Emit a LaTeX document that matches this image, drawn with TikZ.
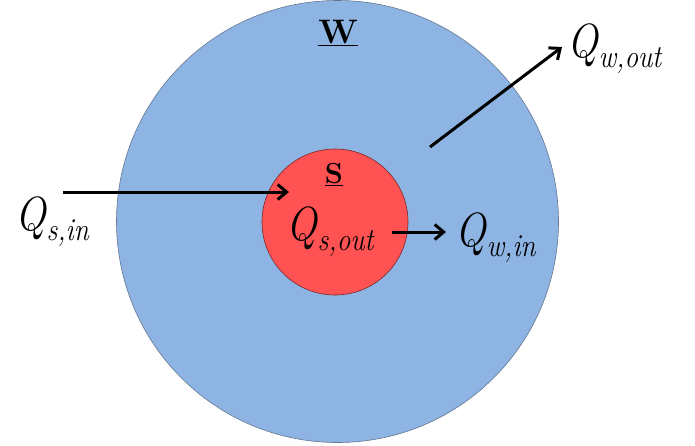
\documentclass[tikz,border=0pt]{standalone}
\usepackage{fontspec}
\usetikzlibrary{arrows.meta}
\definecolor{wblue}{RGB}{142,180,227}
\definecolor{wedge}{RGB}{100,118,145}
\definecolor{sred}{RGB}{255,82,82}
\definecolor{sedge}{RGB}{120,40,40}
\newcommand{\qlab}[1]{\textit{Q}\raisebox{-0.22em}{\fontsize{32}{36}\selectfont\textit{#1}}}
\begin{document}
\begin{tikzpicture}[x=1pt,y=-1pt,
  region/.style={circle,line width=0.6pt,inner sep=0pt},
  flow/.style={line width=3pt,-{Straight Barb[length=9pt,width=15pt,line width=3pt]}},
  qtext/.style={font=\fontsize{48}{56}\selectfont,inner sep=0pt,anchor=base west,xscale=0.85},
  title/.style={font=\bfseries\fontsize{34}{38}\selectfont,inner sep=0pt,anchor=base}]
\useasboundingbox (0,0) rectangle (695,445);
\node[region,draw=wedge,fill=wblue,minimum size=442pt] (W) at (337.5,221.5) {};
\node[region,draw=sedge,fill=sred,minimum size=146pt] (S) at (335,222) {};
\node[title] (Wt) at (338,43) {\underline{W}};
\node[title,font=\bfseries\fontsize{29}{32}\selectfont] (St) at (334,183) {\underline{S}};
\node[qtext] (qsin) at (15,230) {\qlab{s,in}};
\node[qtext] (qsout) at (286,240) {\qlab{s,out}};
\node[qtext] (qwin) at (455,246) {\qlab{w,in}};
\node[qtext] (qwout) at (567,57) {\qlab{w,out}};
\coordinate (a1s) at (63,192);
\coordinate (a1e) at (289,192);
\coordinate (a2s) at (392,232);
\coordinate (a2e) at (446,232);
\coordinate (a3s) at (430,147);
\coordinate (a3e) at (562,47);
\draw[flow] (a1s) -- (a1e);
\draw[flow] (a2s) -- (a2e);
\draw[flow] (a3s) -- (a3e);
\end{tikzpicture}
\end{document}
